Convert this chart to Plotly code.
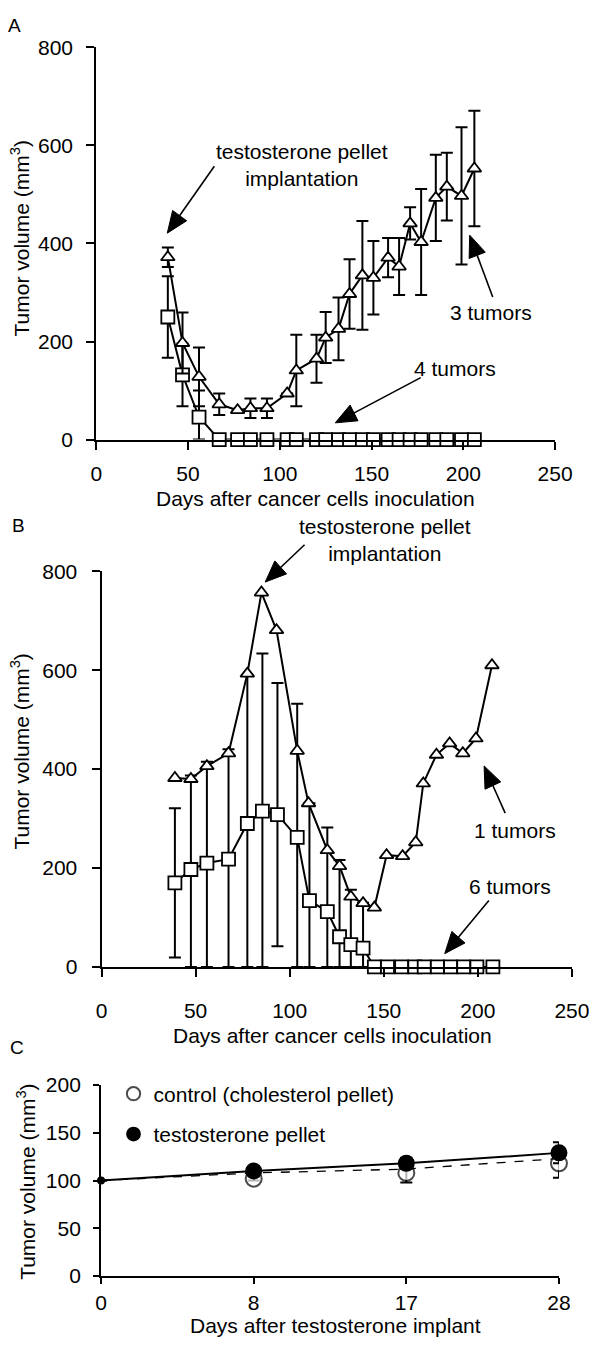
import math
import plotly.graph_objects as go

W, H = 600, 1348
FONT = "Liberation Sans, Arial, sans-serif"

# ---------------- Panel A data ----------------
a_days = [39, 47, 56, 67, 77, 84, 93, 104, 109, 120, 125, 132, 138, 145, 151,
          159, 165, 171, 177, 185, 191, 199, 206]
a_tri = [372, 197, 128, 72, 60, 64, 64, 94, 141, 165, 208, 226, 297, 335, 330,
         371, 353, 441, 403, 493, 516, 497, 553]
a_tri_err = [20, 62, 60, 22, 0, 20, 20, 0, 73, 49, 52, 64, 71, 111, 75,
             40, 58, 33, 108, 88, 69, 140, 118]
a_sq = [250, 132, 46, 0, 0, 0, 0, 0, 0, 0, 0, 0, 0, 0, 0,
        0, 0, 0, 0, 0, 0, 0, 0]
a_sq_err_up = [83, 64, 54, 0, 0, 0, 0, 0, 0, 0, 0, 0, 0, 0, 0,
               0, 0, 0, 0, 0, 0, 0, 0]
a_sq_err_dn = [83, 64, 46, 0, 0, 0, 0, 0, 0, 0, 0, 0, 0, 0, 0,
               0, 0, 0, 0, 0, 0, 0, 0]

# ---------------- Panel B data ----------------
b_tri_days = [39, 47.5, 56, 67.5, 77.5, 85, 93, 104, 110, 120, 126.5, 132.5,
              139, 145, 151.5, 160, 167, 171, 178, 185, 192, 199, 207.5]
b_tri = [382, 380, 406, 432, 593, 757, 681, 437, 331, 236, 204, 142,
         129, 120, 226, 224, 252, 371, 429, 452, 432, 462, 610]
b_sq_days = [39, 47.5, 56, 67.5, 77.5, 85.5, 93.5, 104, 110.5, 120, 126.5,
             132.5, 139, 145, 152, 159.5, 166.5, 171.5, 178.5, 185.5, 192.5,
             199.5, 208]
b_sq = [170, 197, 210, 218, 290, 315, 308, 262, 134, 112, 61,
        45, 38, 0, 0, 0, 0, 0, 0, 0, 0, 0, 0]
b_sq_err_up = [151, 190, 205, 222, 300, 319, 266, 270, 197, 170, 155,
               111, 92, 0, 0, 0, 0, 0, 0, 0, 0, 0, 0]
b_sq_err_dn = [151, 197, 210, 218, 290, 315, 266, 262, 134, 112, 61,
               45, 38, 0, 0, 0, 0, 0, 0, 0, 0, 0, 0]

# ---------------- Panel C data ----------------
c_days = ["0", "8", "17", "28"]
c_ctrl = [100, 102, 108, 118]
c_ctrl_err = [0, 2, 10, 15]
c_ctrl_line = [100, 108, 112, 123]
c_test = [100, 110, 118, 129]
c_test_err = [0, 3, 6, 11]


def px(x):
    return x / W


def py(y):
    return 1 - y / H


fig = go.Figure()

tri_marker = dict(symbol="triangle-up", size=12, color="white",
                  line=dict(color="black", width=1.8))
sq_marker = dict(symbol="square", size=13, color="white",
                 line=dict(color="black", width=1.8))
eb = dict(color="black", thickness=2, width=6)

# Panel A
fig.add_trace(go.Scatter(x=a_days, y=a_sq, mode="lines+markers", xaxis="x", yaxis="y",
                         line=dict(color="black", width=2), marker=sq_marker,
                         error_y=dict(type="data", symmetric=False, array=a_sq_err_up,
                                      arrayminus=a_sq_err_dn, **eb),
                         cliponaxis=False, showlegend=False))
fig.add_trace(go.Scatter(x=a_days, y=a_tri, mode="lines+markers", xaxis="x", yaxis="y",
                         line=dict(color="black", width=2), marker=tri_marker,
                         error_y=dict(type="data", array=a_tri_err, **eb),
                         cliponaxis=False, showlegend=False))

# Panel B
fig.add_trace(go.Scatter(x=b_sq_days, y=b_sq, mode="lines+markers", xaxis="x2", yaxis="y2",
                         line=dict(color="black", width=2), marker=sq_marker,
                         error_y=dict(type="data", symmetric=False, array=b_sq_err_up,
                                      arrayminus=b_sq_err_dn, **eb),
                         cliponaxis=False, showlegend=False))
fig.add_trace(go.Scatter(x=b_tri_days, y=b_tri, mode="lines+markers", xaxis="x2", yaxis="y2",
                         line=dict(color="black", width=2), marker=tri_marker,
                         cliponaxis=False, showlegend=False))

# Panel C
fig.add_trace(go.Scatter(x=c_days, y=c_ctrl_line, mode="lines", xaxis="x3", yaxis="y3",
                         line=dict(color="black", width=1.3, dash="dash"),
                         cliponaxis=False, showlegend=False, hoverinfo="skip"))
fig.add_trace(go.Scatter(x=c_days, y=c_test, mode="lines", xaxis="x3", yaxis="y3",
                         line=dict(color="black", width=2),
                         cliponaxis=False, showlegend=False, hoverinfo="skip"))
fig.add_trace(go.Scatter(x=c_days, y=c_ctrl, mode="markers", xaxis="x3", yaxis="y3",
                         name="control (cholesterol pellet)", legendgroup="a",
                         marker=dict(symbol="circle", size=[5, 16, 16, 16], color="white",
                                     line=dict(color="black", width=2)),
                         error_y=dict(type="data", array=c_ctrl_err, **eb),
                         cliponaxis=False))
fig.add_trace(go.Scatter(x=c_days, y=c_test, mode="markers", xaxis="x3", yaxis="y3",
                         name="testosterone pellet", legendgroup="b",
                         marker=dict(symbol="circle", size=[6, 15, 15, 15], color="#000000",
                                     opacity=1, line=dict(color="#000000", width=2)),
                         error_y=dict(type="data", array=c_test_err, **eb),
                         cliponaxis=False))

axis_common = dict(showline=True, linecolor="black", linewidth=2, ticks="outside",
                   ticklen=8, tickwidth=2, tickcolor="black", showgrid=False,
                   zeroline=False, tickfont=dict(size=21, color="black", family=FONT))

fig.update_layout(
    width=W, height=H, margin=dict(l=0, r=0, t=0, b=0),
    paper_bgcolor="white", plot_bgcolor="white",
    font=dict(family=FONT, size=21, color="black"),
    xaxis=dict(domain=[px(94), px(572)], range=[0, 250], tickvals=[0, 50, 100, 150, 200, 250],
               anchor="y", ticklabelstandoff=6, **axis_common),
    yaxis=dict(domain=[py(435), py(36)], range=[0, 800], tickvals=[0, 200, 400, 600, 800],
               anchor="x", ticklabelstandoff=9, **axis_common),
    xaxis2=dict(domain=[px(99.5), px(589.5)], range=[0, 250], tickvals=[0, 50, 100, 150, 200, 250],
                anchor="y2", ticklabelstandoff=16, **axis_common),
    yaxis2=dict(domain=[py(971.5), py(569)], range=[0, 800], tickvals=[0, 200, 400, 600, 800],
                anchor="x2", ticklabelstandoff=10, **axis_common),
    xaxis3=dict(domain=[px(99), px(576)], type="category", range=[0, 3],
                anchor="y3", ticklabelstandoff=1, **{**axis_common, "ticklen": 6}),
    yaxis3=dict(domain=[py(1286), py(1091.7)], range=[0, 200], tickvals=[0, 50, 100, 150, 200],
                anchor="x3", ticklabelstandoff=8, **{**axis_common, "ticklen": 6}),
    legend=dict(x=px(112), y=py(1080), xanchor="left", yanchor="top",
                font=dict(size=21, family=FONT, color="black"),
                bgcolor="rgba(0,0,0,0)", tracegroupgap=10, itemsizing="trace"),
)

ann = []
shapes = []


def text(x, y, s, size=21, angle=0):
    ann.append(dict(x=px(x), y=py(y), xref="paper", yref="paper", text=s, showarrow=False,
                    xanchor="center", yanchor="middle", textangle=angle,
                    font=dict(size=size, family=FONT, color="black")))


def arrow(x0, y0, x1, y1, head_len=22, head_half=9):
    # tail (x0, y0) -> tip (x1, y1), in page pixels
    dx, dy = x1 - x0, y1 - y0
    d = math.hypot(dx, dy)
    ux, uy = dx / d, dy / d
    bx, by = x1 - ux * head_len, y1 - uy * head_len
    nx, ny = -uy, ux
    shapes.append(dict(type="line", xref="paper", yref="paper",
                       x0=px(x0), y0=py(y0), x1=px(bx + ux * 2), y1=py(by + uy * 2),
                       line=dict(color="black", width=1.6)))
    path = "M{},{} L{},{} L{},{} Z".format(
        px(x1), py(y1),
        px(bx + nx * head_half), py(by + ny * head_half),
        px(bx - nx * head_half), py(by - ny * head_half))
    shapes.append(dict(type="path", xref="paper", yref="paper", path=path,
                       fillcolor="black", line=dict(color="black", width=1)))


# panel labels
text(9, 14, "A", size=19)
text(13, 522, "B", size=19)
text(11, 1053, "C", size=19)

# axis titles
text(15, 230, "Tumor volume (mm<sup>3</sup>)", angle=-90)
text(322, 495, "Days after cancer cells inoculation")
text(15, 752, "Tumor volume (mm<sup>3</sup>)", angle=-90)
text(340, 1041, "Days after cancer cells inoculation")
text(21, 1190, "Tumor volume (mm<sup>3</sup>)", angle=-90)
text(343, 1336, "Days after testosterone implant")

# panel A annotations
text(308, 156, "testosterone pellet<br>implantation")
arrow(217, 157, 168, 225)
text(505, 306, "3 tumors")
arrow(507, 290, 483, 227)
text(468, 363, "4 tumors")
arrow(432, 372, 343, 418)

# panel B annotations
text(395, 537, "testosterone pellet<br>implantation")
arrow(311, 542, 270, 580)
text(530, 833, "1 tumors")
arrow(520, 815, 498, 767)
text(525, 890, "6 tumors")
arrow(503, 904, 457, 958)

fig.update_layout(annotations=ann, shapes=shapes)

post = """
(function(){
  var de = document.documentElement, b = document.body;
  de.style.margin = '0'; de.style.padding = '0'; de.style.overflow = 'hidden';
  b.style.margin = '0'; b.style.padding = '0'; b.style.overflow = 'hidden';
  var d = document.querySelector('.plotly-graph-div');
  if (d) { d.style.position = 'absolute'; d.style.left = '0px'; d.style.top = '0px'; }
})();
"""

fig.write_html("out.html", config={"displayModeBar": False}, post_script=post)
